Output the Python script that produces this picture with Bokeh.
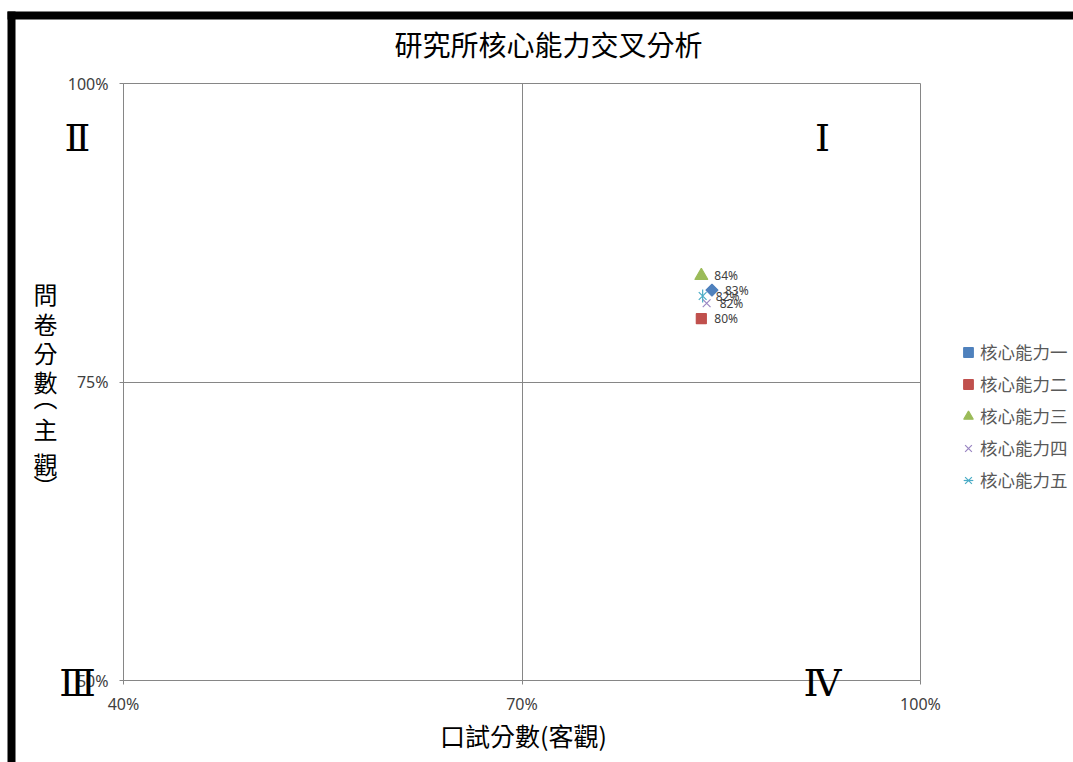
import math
from bokeh.plotting import figure
from bokeh.models import (Range1d, FixedTicker, PrintfTickFormatter, Label, Legend,
                          LegendItem, BoxAnnotation, ColumnDataSource)
from bokeh.core.properties import value
from bokeh.embed import file_html
from bokeh.resources import INLINE

# ---------------- data ----------------
series_names = ["核心能力一", "核心能力二", "核心能力三", "核心能力四", "核心能力五"]
oral_scores = [84.3, 83.5, 83.5, 83.9, 83.6]      # 口試分數 (x, %)
survey_scores = [82.7, 80.3, 83.9, 81.6, 82.2]    # 問卷分數 (y, %)
x_ticks = [40, 70, 100]
y_ticks = [50, 75, 100]
quadrant_names = ["Ⅰ", "Ⅱ", "Ⅲ", "Ⅳ"]
title_text = "研究所核心能力交叉分析"
x_title = "口試分數(客觀)"
y_title = "問卷分數(主觀)"

# ---------------- style ----------------
# each series: list of (marker, size, angle) layers
marker_layers = [
    [("square", 8.5, math.pi / 4)],
    [("square", 10, 0)],
    [("triangle", 13, 0)],
    [("x", 11, 0)],
    [("x", 11, 0), ("dash", 13, math.pi / 2)],
]
colors = ["#4F81BD", "#C0504D", "#9BBB59", "#9A86C2", "#4BACC6"]
CJK = "Noto Sans CJK TC"
GRID = "#868686"
W, H = 1073, 762
FL, FR, FT, FB = 123, 920, 83, 680  # pixel box of the plotting area

XMIN, XMAX = x_ticks[0], x_ticks[-1]
YMIN, YMAX = y_ticks[0], y_ticks[-1]
SX = (XMAX - XMIN) / (FR - FL)
SY = (YMAX - YMIN) / (FB - FT)


def px2x(px):
    return XMIN + (px - FL) * SX


def py2y(py):
    return YMIN + (FB - py) * SY


# the frame covers the whole canvas; the plotting box is drawn by the
# axes (fixed_location) and the bounded grid lines
p = figure(width=W, height=H,
           x_range=Range1d(px2x(0), px2x(W)), y_range=Range1d(py2y(H), py2y(0)),
           output_backend="svg", toolbar_location=None, title=None,
           min_border=0, min_border_left=0, min_border_right=0,
           min_border_top=0, min_border_bottom=0)
p.background_fill_color = "white"
p.border_fill_color = "white"
p.outline_line_color = None

p.xaxis.fixed_location = YMIN
p.xaxis.bounds = (XMIN, XMAX)
p.yaxis.fixed_location = XMIN
p.yaxis.bounds = (YMIN, YMAX)

for ax, ticks in ((p.xaxis, x_ticks), (p.yaxis, y_ticks)):
    ax.ticker = FixedTicker(ticks=ticks)
    ax.formatter = PrintfTickFormatter(format="%d%%")
    ax.axis_line_color = GRID
    ax.major_tick_line_color = GRID
    ax.major_tick_in = 0
    ax.major_tick_out = 4
    ax.minor_tick_line_color = None
    ax.major_label_text_font = "Noto Sans"
    ax.major_label_text_font_size = "16px"
    ax.major_label_text_color = "#404040"
p.xaxis.major_label_standoff = 8
p.yaxis.major_label_standoff = 11

p.xgrid.ticker = FixedTicker(ticks=x_ticks)
p.ygrid.ticker = FixedTicker(ticks=y_ticks)
p.xgrid.bounds = (XMIN, XMAX)
p.ygrid.bounds = (YMIN, YMAX)
p.xgrid.cross_bounds = (YMIN, YMAX)
p.ygrid.cross_bounds = (XMIN, XMAX)
p.grid.grid_line_color = GRID
p.grid.grid_line_width = 1

# ---------------- points ----------------
items = []
for i, name in enumerate(series_names):
    src = ColumnDataSource(dict(x=[oral_scores[i]], y=[survey_scores[i]],
                                t=["%d%%" % round(survey_scores[i])]))
    rends = []
    for mk, sz, ang in marker_layers[i]:
        rends.append(p.scatter("x", "y", source=src, marker=mk, size=sz, angle=ang,
                               fill_color=colors[i], line_color=colors[i], line_width=1.2))
    p.text("x", "y", text="t", source=src, x_offset=13, text_baseline="middle",
           text_align="left", text_font=value("Noto Sans"), text_font_size="12px",
           text_color="#404040")
    items.append(LegendItem(label=name, renderers=rends))

legend = Legend(items=items, location=(956, H - 492), orientation="vertical",
                glyph_width=24, glyph_height=24, label_height=24, spacing=7,
                label_standoff=0, padding=0, margin=0,
                label_text_font=CJK, label_text_font_size="17.5px",
                label_text_color="#595959", background_fill_alpha=0,
                border_line_color=None)
p.add_layout(legend, "center")

# ---------------- texts ----------------
p.add_layout(Label(x=px2x(548), y=py2y(43), text=title_text, text_align="center",
                   text_baseline="middle", text_font=CJK, text_font_size="28px",
                   text_color="black"))
p.add_layout(Label(x=px2x(523), y=py2y(734), text=x_title, text_align="center",
                   text_baseline="middle", text_font=CJK, text_font_size="25px",
                   text_color="black"))

# vertical (stacked) y title; brackets use their vertical presentation forms
vertical_forms = {"(": "︵", ")": "︶"}
ycenters = [293, 323, 352, 381, 396, 428, 463, 485]
for ch, cy in zip(list(y_title), ycenters):
    p.add_layout(Label(x=px2x(45), y=py2y(cy), text=vertical_forms.get(ch, ch),
                       text_align="center", text_baseline="middle", text_font=CJK,
                       text_font_size="24px", text_color="black"))

quad_pos = [(822, 137), (77, 137), (77, 682), (822, 682)]
for q, (qx, qy) in zip(quadrant_names, quad_pos):
    p.add_layout(Label(x=px2x(qx), y=py2y(qy), text=q, text_align="center",
                       text_baseline="middle", text_font="DejaVu Serif",
                       text_font_size="38px", text_color="black"))

# black frame of the chart (top and left edges)
p.add_layout(BoxAnnotation(left=px2x(7), right=px2x(W + 20), top=py2y(11), bottom=py2y(19),
                           fill_color="black", fill_alpha=1, line_alpha=0, level="overlay"))
p.add_layout(BoxAnnotation(left=px2x(7), right=px2x(15), top=py2y(11), bottom=py2y(H + 20),
                           fill_color="black", fill_alpha=1, line_alpha=0, level="overlay"))

open("out.html", "w").write(file_html(p, INLINE))
